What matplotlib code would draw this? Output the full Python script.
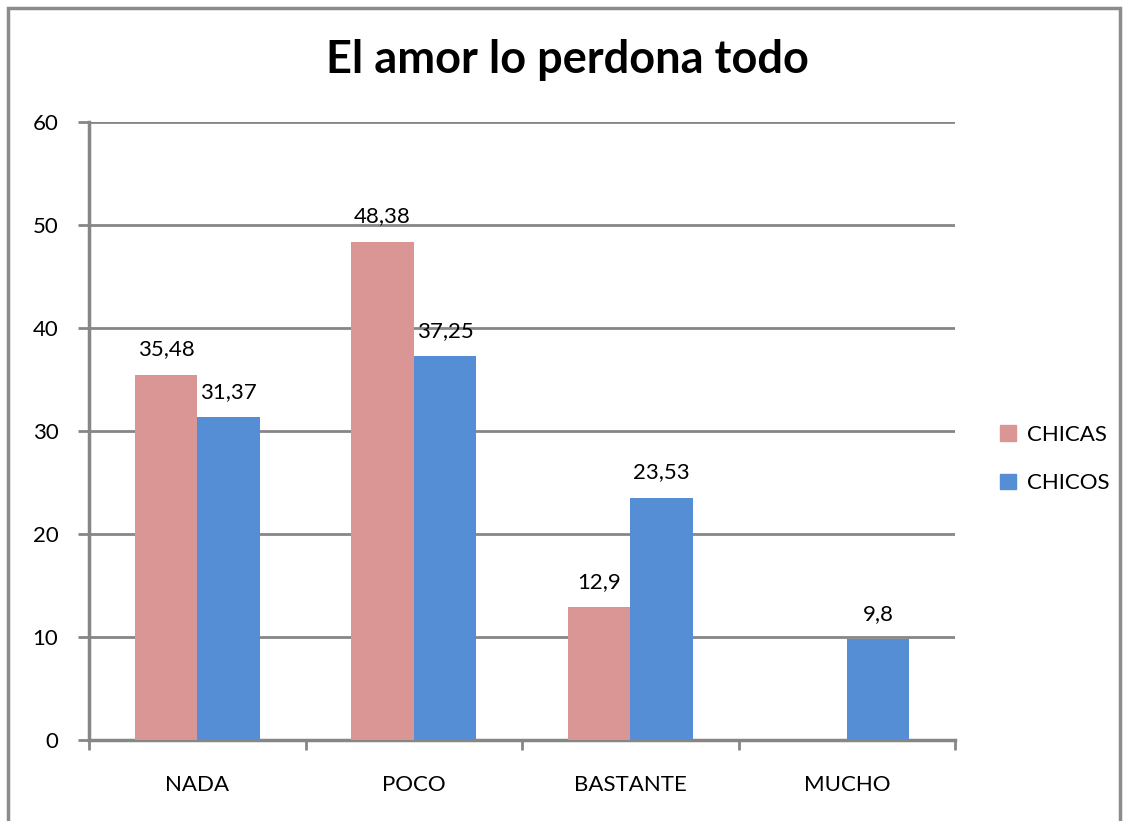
import matplotlib.pyplot as plt
import numpy as np
from matplotlib.patches import Rectangle, Patch

# -------------------------------
# Data
# -------------------------------
categories = ["NADA", "POCO", "BASTANTE", "MUCHO"]
chicas = [35.48, 48.38, 12.9, np.nan]
chicos = [31.37, 37.25, 23.53, 9.8]
series_names = ["CHICAS", "CHICOS"]
title = "El amor lo perdona todo"

COL_CHICAS = "#D99694"
COL_CHICOS = "#558ED5"
GRID = "#868686"
FONT = "Lato"
FS = 16

plt.rcParams["font.family"] = [FONT, "DejaVu Sans"]

fig = plt.figure(figsize=(11.28, 8.21), dpi=100)
fig.patch.set_facecolor("white")

# outer chart border
fig.add_artist(Rectangle((8 / 1128, -0.01), (1120 - 8) / 1128, 1 - 8 / 821 + 0.01,
                         transform=fig.transFigure, fill=False,
                         edgecolor="#8C8C8C", linewidth=2.5))

ax = fig.add_axes([89 / 1128, 1 - 740 / 821, (955 - 89) / 1128, (740 - 122) / 821])

x = np.arange(len(categories))
w = 0.288
b1 = ax.bar(x - w / 2, chicas, width=w, color=COL_CHICAS, zorder=3)
b2 = ax.bar(x + w / 2, chicos, width=w, color=COL_CHICOS, zorder=3)


def fmt(v):
    return f"{v:g}".replace(".", ",")


for bars, vals in ((b1, chicas), (b2, chicos)):
    for rect, v in zip(bars, vals):
        if np.isnan(v):
            continue
        ax.annotate(fmt(v), (rect.get_x() + rect.get_width() / 2, v),
                    xytext=(0, 11), textcoords="offset points",
                    ha="center", va="bottom", fontsize=FS, color="black")

ax.set_xlim(-0.5, len(categories) - 0.5)
ax.set_ylim(0, 60)
ax.set_yticks(np.arange(0, 61, 10))
ax.yaxis.grid(True, color=GRID, linewidth=2)
ax.set_axisbelow(True)

ax.set_xticks(x)
ax.set_xticklabels(categories)
ax.set_xticks(np.arange(-0.5, len(categories), 1), minor=True)
ax.tick_params(axis="x", which="major", length=0, pad=25, labelsize=FS)
ax.tick_params(axis="x", which="minor", length=7, width=2, color=GRID, direction="out")
ax.tick_params(axis="y", length=8, width=2, color=GRID, pad=14, labelsize=FS)

for s in ("top", "right"):
    ax.spines[s].set_visible(False)
for s in ("left", "bottom"):
    ax.spines[s].set_color(GRID)
    ax.spines[s].set_linewidth(2.5)

fig.text(567 / 1128, 1 - 60 / 821, title, ha="center", va="center",
         fontsize=32.5, fontweight="bold")

handles = [Patch(color=COL_CHICAS), Patch(color=COL_CHICOS)]
fig.legend(handles, series_names, loc="center left",
           bbox_to_anchor=(980 / 1128, 1 - 459 / 821), frameon=False,
           fontsize=FS, handlelength=0.7, handleheight=0.7,
           handletextpad=0.5, labelspacing=1.3)

fig.savefig("out.png", dpi=100, facecolor="white")
